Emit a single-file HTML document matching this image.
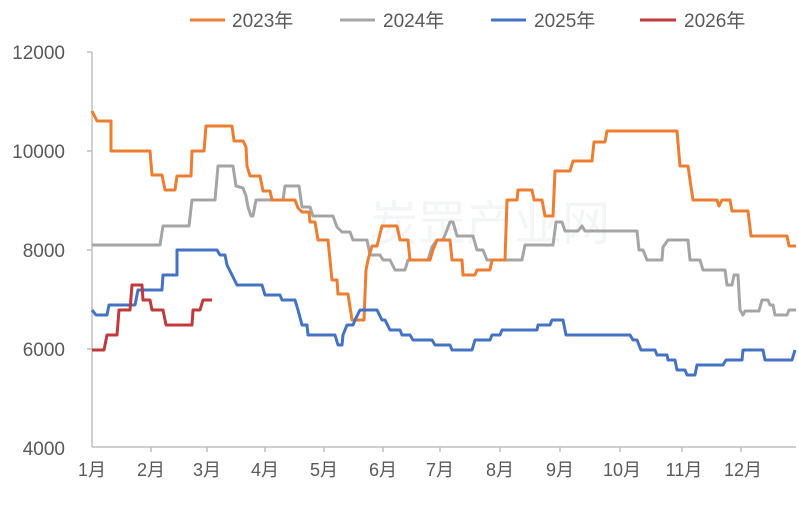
<!DOCTYPE html>
<html><head><meta charset="utf-8"><style>
body{margin:0;background:#fff;}
svg text{font-family:"Liberation Sans","Noto Sans CJK SC",sans-serif;fill:#595959;}
</style></head><body>
<svg width="798" height="503" viewBox="0 0 798 503" xmlns="http://www.w3.org/2000/svg">
<rect width="798" height="503" fill="#fff"/>
<g font-size="19" text-anchor="end">
<text x="65" y="59">12000</text>
<text x="65" y="158">10000</text>
<text x="65" y="257">8000</text>
<text x="65" y="356">6000</text>
<text x="65" y="455">4000</text>
</g>
<g stroke="#bfbfbf" stroke-width="1.5">
<line x1="92" y1="52" x2="92" y2="447"/>
<line x1="92" y1="447" x2="796" y2="447"/>
<line x1="87" y1="52" x2="92" y2="52"/><line x1="87" y1="151" x2="92" y2="151"/><line x1="87" y1="250" x2="92" y2="250"/><line x1="87" y1="349" x2="92" y2="349"/>
<line x1="151" y1="447" x2="151" y2="452"/><line x1="207" y1="447" x2="207" y2="452"/><line x1="265" y1="447" x2="265" y2="452"/><line x1="324" y1="447" x2="324" y2="452"/><line x1="383" y1="447" x2="383" y2="452"/><line x1="440" y1="447" x2="440" y2="452"/><line x1="500" y1="447" x2="500" y2="452"/><line x1="560" y1="447" x2="560" y2="452"/><line x1="620" y1="447" x2="620" y2="452"/><line x1="682" y1="447" x2="682" y2="452"/><line x1="741" y1="447" x2="741" y2="452"/>
</g>
<g font-size="18" text-anchor="middle">
<text x="92" y="476">1月</text><text x="151" y="476">2月</text><text x="207" y="476">3月</text><text x="265" y="476">4月</text><text x="324" y="476">5月</text><text x="383" y="476">6月</text><text x="440" y="476">7月</text><text x="500" y="476">8月</text><text x="560" y="476">9月</text><text x="622" y="476">10月</text><text x="684" y="476">11月</text><text x="743" y="476">12月</text>
</g>
<text x="490" y="240" font-size="48" style="fill:#f4f5f6" text-anchor="middle">炭罡产业网</text>
<g fill="none" stroke-width="3" stroke-linejoin="round">
<polyline stroke="#a5a5a5" points="92,245 160,245 163,226 189,226 192,200 215,200 218,166 233,166 236,186 243,188 246,196 248,207 251,216 253,216 256,200 283,200 285,186 299,186 302,207 310,207 313,216 333,216 337,227 342,232 350,232 353,240 367,240 370,255 380,255 383,260 390,260 395,270 405,270 408,260 428,260 432,247 437,240 443,240 447,230 450,222 453,222 457,236 473,236 477,250 483,250 487,260 522,260 525,245 553,245 556,222 562,222 565,231 578,231 582,226 585,231 637,231 639,250 643,250 647,260 662,260 663,247 668,240 688,240 690,260 700,260 703,270 725,270 727,285 732,285 734,275 738,275 740,310 743,315 745,311 759,311 762,300 768,300 770,305 773,305 775,315 787,315 789,310 796,310"/>
<polyline stroke="#ed7d31" points="92,111 97,121 111,121 111,151 150,151 152,175 162,175 165,190 175,190 177,176 191,176 192,151 204,151 206,126 232,126 234,141 243,141 246,147 247,166 250,176 260,176 263,191 270,191 272,200 295,200 298,208 302,212 309,212 310,222 315,222 318,240 328,240 332,280 337,280 338,294 348,294 352,320 364,320 366,270 368,260 372,246 377,246 382,226 397,226 400,240 408,240 410,260 430,260 433,250 437,240 450,240 452,260 462,260 463,275 475,275 477,270 490,270 492,260 505,260 507,200 517,200 518,190 532,190 534,200 542,200 545,216 553,216 555,171 570,171 573,161 592,161 594,142 605,142 607,131 677,131 680,166 688,166 690,180 693,200 717,200 719,206 722,200 730,200 732,211 748,211 751,236 787,236 789,246 796,246"/>
<polyline stroke="#4472c4" points="92,310 96,315 107,315 109,305 135,305 138,290 162,290 163,275 177,275 177,250 217,250 220,255 225,255 227,265 232,275 237,285 262,285 265,295 280,295 282,300 295,300 298,310 302,325 307,325 308,335 335,335 338,345 342,345 343,335 347,325 353,325 355,320 360,310 377,310 382,320 385,320 390,330 400,330 402,335 410,335 413,340 432,340 435,345 450,345 452,350 472,350 475,340 490,340 492,335 500,335 502,330 537,330 538,325 550,325 552,320 563,320 566,335 630,335 633,340 637,340 641,350 655,350 657,355 667,355 668,360 675,360 677,370 685,370 687,375 695,375 697,365 723,365 726,360 742,360 743,350 763,350 765,360 792,360 795,350"/>
<polyline stroke="#c0393b" points="92,350 104,350 107,335 117,335 119,310 130,310 132,285 142,285 143,300 150,300 152,310 163,310 166,325 192,325 193,310 200,310 203,300 212,300"/>
</g>
<g stroke-width="3">
<line x1="190" y1="20" x2="225" y2="20" stroke="#ed7d31"/>
<line x1="340" y1="20" x2="375" y2="20" stroke="#a5a5a5"/>
<line x1="491" y1="20" x2="526" y2="20" stroke="#4472c4"/>
<line x1="640" y1="20" x2="676" y2="20" stroke="#c0393b"/>
</g>
<g font-size="19">
<text x="232" y="27">2023年</text>
<text x="383" y="27">2024年</text>
<text x="534" y="27">2025年</text>
<text x="684" y="27">2026年</text>
</g>
</svg>
</body></html>
